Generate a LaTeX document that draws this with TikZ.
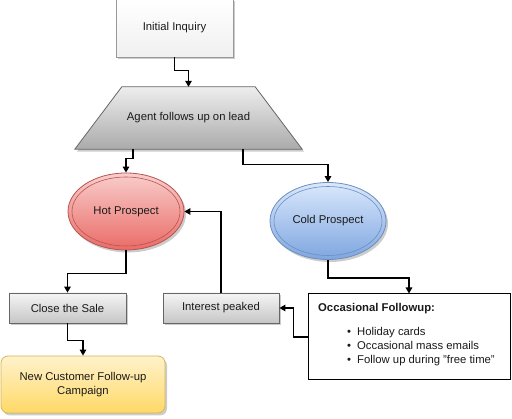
\documentclass[tikz,border=0pt]{standalone}
\usepackage{fontspec}
\setmainfont{Liberation Sans}
\usetikzlibrary{shapes.geometric,arrows.meta,shadows}
\definecolor{hotA}{HTML}{F8CECC}
\definecolor{hotB}{HTML}{EA6B66}
\definecolor{hotL}{HTML}{B85450}
\definecolor{coldA}{HTML}{DAE8FC}
\definecolor{coldB}{HTML}{7EA6E0}
\definecolor{coldL}{HTML}{6C8EBF}
\definecolor{yelA}{HTML}{FFF2CC}
\definecolor{yelB}{HTML}{FFD966}
\definecolor{yelL}{HTML}{D6B656}
\definecolor{grA}{HTML}{F5F5F5}
\definecolor{grB}{HTML}{B3B3B3}
\definecolor{grL}{HTML}{666666}
\definecolor{txt}{HTML}{1A1A1A}
\begin{document}
\begin{tikzpicture}[x=1pt,y=-1pt,
  font=\fontsize{11.3}{13.5}\selectfont,
  shad/.style={drop shadow={shadow xshift=2pt,shadow yshift=-2.5pt,opacity=0.2,fill=black}},
  graybox/.style={rectangle,draw=grL,line width=0.8pt,top color=grA,bottom color=grB!75,shad,text=txt,inner sep=0pt},
  arr/.style={draw=black,line width=1.3pt,-{Triangle[length=6pt,width=6.5pt]}},
  ellip/.style={ellipse,line width=0.8pt,minimum width=116pt,minimum height=77pt,inner sep=0pt,shad,text=txt},
  listtxt/.style={anchor=base west,inner sep=0pt,text=txt},
  bul/.style={anchor=base,inner sep=0pt,text=txt}]
\useasboundingbox (0,0) rectangle (512,419);

\node[rectangle,draw=black!40,line width=0.8pt,top color=white,bottom color=black!6,shad,
  minimum width=117pt,minimum height=58pt,inner sep=0pt,text=txt] (ii) at (174.5,28) {Initial Inquiry};

% trapezoid: named frame node, outline drawn from its anchors
\node[rectangle,minimum width=227pt,minimum height=62pt,inner sep=0pt] (trap) at (188.5,118) {};
\path[draw=grL,line width=0.8pt,top color=black!7,bottom color=black!33,shad]
  (trap.south west) -- (trap.south east) -- ([xshift=-47pt]trap.north east)
  -- ([xshift=47pt]trap.north west) -- cycle;
\node[text=txt,inner sep=0pt] (trapt) at (trap.center) {Agent follows up on lead};

\node[ellip,draw=hotL,top color=hotA,bottom color=hotB] (hot) at (126,211.5) {Hot Prospect};
\draw[hotL,line width=0.6pt] (hot.center) ellipse [x radius=54pt,y radius=34.5pt];

\node[ellip,draw=coldL,top color=coldA,bottom color=coldB] (cold) at (328,221) {Cold Prospect};
\draw[coldL,line width=0.6pt] (cold.center) ellipse [x radius=54pt,y radius=34.5pt];

\node[graybox,minimum width=117pt,minimum height=30pt] (close) at (67.5,308) {Close the Sale};
\node[graybox,minimum width=116pt,minimum height=30pt] (interest) at (221,308) {Interest peaked};

\node[rectangle,rounded corners=7pt,draw=yelL,line width=0.8pt,top color=yelA,bottom color=yelB,shad,
  minimum width=164pt,minimum height=57pt,inner sep=0pt,align=center,text=txt] (new) at (83,384.5)
  {New Customer Follow-up\\Campaign};

\node[rectangle,draw=black,line width=1pt,fill=white,minimum width=202pt,minimum height=86pt,inner sep=0pt] (occ) at (409,337) {};
\node[listtxt,font=\fontsize{11.3}{13.5}\selectfont\bfseries] (occt) at (318,311.5) {Occasional Followup:};
\node[bul] (b1) at (349,336) {\textbullet};
\node[bul] (b2) at (349,350) {\textbullet};
\node[bul] (b3) at (349,363.5) {\textbullet};
\node[listtxt] (l1) at (357,336) {Holiday cards};
\node[listtxt] (l2) at (357,350) {Occasional mass emails};
\node[listtxt] (l3) at (357,363.5) {Follow up during "free time"};

\draw[arr] (ii.south) -- ++(0,13) -| (trap.north);
\draw[arr] ([xshift=-55.5pt]trap.south) -- ++(0,9) -| (hot.north);
\draw[arr] ([xshift=54.5pt]trap.south) -- ++(0,15) -| (cold.north);
\draw[arr] (hot.south) -- ++(0,23) -| (close.north);
\draw[arr] (interest.north) |- (hot.east);
\draw[arr] (close.south) -- ++(0,17) -| (new.north);
\draw[arr] (cold.south) -- ++(0,18) -| (occ.north);
\draw[arr] (occ.west) -- ++(-14,0) |- (interest.east);
\end{tikzpicture}
\end{document}
